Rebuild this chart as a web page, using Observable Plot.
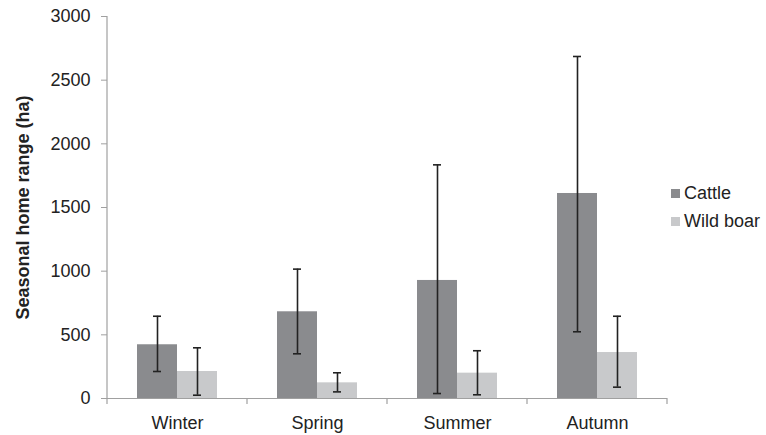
<!DOCTYPE html>
<html>
<head>
<meta charset="utf-8">
<script src="https://cdn.jsdelivr.net/npm/d3@7"></script>
<script src="https://cdn.jsdelivr.net/npm/@observablehq/plot@0.6"></script>
<style>
  body { margin: 0; background: #fff; }
  #wrap { position: relative; width: 766px; height: 435px; font-family: "Liberation Sans", Arial, sans-serif; }
  #legend { position: absolute; left: 671px; top: 179px; color: #222; font-size: 18px; }
  .item { display: flex; align-items: center; height: 28px; }
  .sw { width: 9px; height: 9px; margin-right: 4px; }
</style>
</head>
<body>
<div id="wrap"><div id="legend"></div></div>
<script>
const seasons = ["Winter", "Spring", "Summer", "Autumn"];
const species = ["Cattle", "Wild boar"];
const colors = ["#8a8b8e", "#c8c9cb"];
const cattleMean = [422, 681, 927, 1610];
const cattleLow = [212, 351, 39, 524];
const cattleHigh = [646, 1016, 1835, 2686];
const boarMean = [212, 123, 199, 361];
const boarLow = [26, 52, 29, 89];
const boarHigh = [398, 202, 375, 646];
const yTicks = [0, 500, 1000, 1500, 2000, 2500, 3000];
const yLabel = "Seasonal home range (ha)";

const rows = [];
seasons.forEach((s, i) => {
  rows.push({season: s, species: species[0], mean: cattleMean[i], low: cattleLow[i], high: cattleHigh[i]});
  rows.push({season: s, species: species[1], mean: boarMean[i], low: boarLow[i], high: boarHigh[i]});
});

const axisColor = "#a0a0a0";
const chart = Plot.plot({
  width: 766, height: 435,
  marginLeft: 107, marginRight: 99, marginTop: 16, marginBottom: 37,
  style: {fontFamily: "'Liberation Sans', Arial, sans-serif", fontSize: "18px", color: "#222", background: "#fff"},
  fx: {domain: seasons, paddingInner: 0, paddingOuter: 0, label: null},
  x: {domain: species, paddingInner: 0, paddingOuter: 0.73, axis: null},
  y: {domain: [0, 3000], label: null},
  color: {domain: species, range: colors},
  marks: [
    Plot.axisY({ticks: yTicks, tickFormat: d => String(d), tickSize: 6, tickPadding: 11, stroke: axisColor, fill: "#222", label: null, fontSize: 18}),
    Plot.axisFx({anchor: "bottom", tickSize: 0, tickPadding: 18, label: null, fontSize: 18, fill: "#222"}),
    Plot.barY(rows, {fx: "season", x: "species", y: "mean", fill: "species"}),
    Plot.ruleY([0], {stroke: axisColor, strokeWidth: 1.2}),
    Plot.ruleX(rows, {fx: "season", x: "species", y1: "low", y2: "high", stroke: "#222", strokeWidth: 1.6}),
    Plot.tickY(rows, {fx: "season", x: "species", y: "high", insetLeft: 16, insetRight: 16, stroke: "#222", strokeWidth: 1.6}),
    Plot.tickY(rows, {fx: "season", x: "species", y: "low", insetLeft: 16, insetRight: 16, stroke: "#222", strokeWidth: 1.6}),
    Plot.text([yLabel], {fx: [seasons[0]], text: d => d, frameAnchor: "left", textAnchor: "middle", rotate: -90, dx: -84, fontWeight: "bold", fontSize: 18, fill: "#222"})
  ]
});

document.getElementById("wrap").prepend(chart);

// y axis line and category boundary ticks, from the plot's own scales
const svg = d3.select(chart);
const y = chart.scale("y"), fx = chart.scale("fx");
const first = fx.apply(seasons[0]);
svg.append("line").attr("x1", first).attr("x2", first)
  .attr("y1", y.apply(0)).attr("y2", y.apply(3000))
  .attr("stroke", axisColor).attr("stroke-width", 1.2);
const edges = seasons.map(s => fx.apply(s)).concat([fx.apply(seasons[seasons.length - 1]) + fx.bandwidth]);
edges.forEach(e => {
  svg.append("line").attr("x1", e).attr("x2", e)
    .attr("y1", y.apply(0)).attr("y2", y.apply(0) + 6)
    .attr("stroke", axisColor).attr("stroke-width", 1.2);
});

const legend = d3.select("#legend");
species.forEach((s, i) => {
  const it = legend.append("div").attr("class", "item");
  it.append("div").attr("class", "sw").style("background", colors[i]);
  it.append("span").text(s);
});
</script>
</body>
</html>
